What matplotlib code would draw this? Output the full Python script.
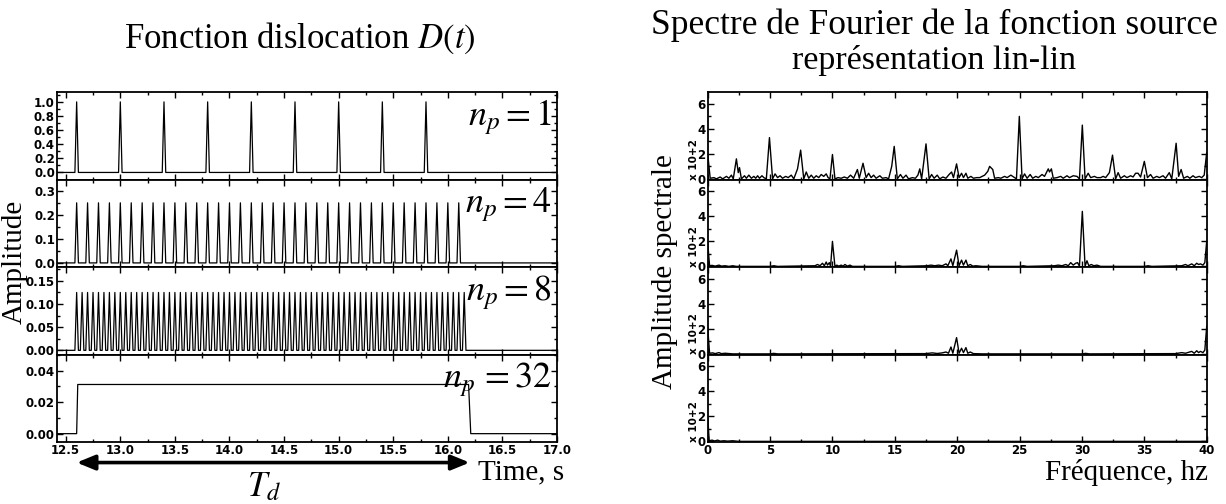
import numpy as np
import matplotlib
matplotlib.use('Agg')
import matplotlib.pyplot as plt
from matplotlib.ticker import MultipleLocator, FormatStrFormatter

plt.rcParams['font.family'] = ['Liberation Sans Narrow', 'DejaVu Sans']
plt.rcParams['mathtext.fontset'] = 'stix'

SERIF = 'Liberation Serif'

# ---- left: dislocation function D(t) ----
np_labels = [r'$n_p=1$', r'$n_p=4$', r'$n_p=8$', r'$n_p\,{=}32$']

spikes_np1 = [12.6, 13.0, 13.4, 13.8, 14.2, 14.6, 15.0, 15.4, 15.8]
spikes_np4 = [12.6, 12.7, 12.8, 12.9, 13.0, 13.1, 13.2, 13.3, 13.4, 13.5, 13.6, 13.7,
              13.8, 13.9, 14.0, 14.1, 14.2, 14.3, 14.4, 14.5, 14.6, 14.7, 14.8, 14.9,
              15.0, 15.1, 15.2, 15.3, 15.4, 15.5, 15.6, 15.7, 15.8, 15.9, 16.0, 16.1]
spikes_np8 = [12.60, 12.65, 12.70, 12.75, 12.80, 12.85, 12.90, 12.95, 13.00, 13.05,
              13.10, 13.15, 13.20, 13.25, 13.30, 13.35, 13.40, 13.45, 13.50, 13.55,
              13.60, 13.65, 13.70, 13.75, 13.80, 13.85, 13.90, 13.95, 14.00, 14.05,
              14.10, 14.15, 14.20, 14.25, 14.30, 14.35, 14.40, 14.45, 14.50, 14.55,
              14.60, 14.65, 14.70, 14.75, 14.80, 14.85, 14.90, 14.95, 15.00, 15.05,
              15.10, 15.15, 15.20, 15.25, 15.30, 15.35, 15.40, 15.45, 15.50, 15.55,
              15.60, 15.65, 15.70, 15.75, 15.80, 15.85, 15.90, 15.95, 16.00, 16.05,
              16.10, 16.15]
spike_amps = [1.0, 0.25, 0.125]

box_t = [12.42, 12.6, 12.61, 16.19, 16.21, 17.0]
box_a = [0.0, 0.0, 0.03125, 0.03125, 0.0, 0.0]

Td_start, Td_end = 12.6, 16.2

left_ylims = [(-0.1, 1.14), (-0.017, 0.347), (-0.009, 0.18), (-0.0053, 0.0503)]
left_ymajor = [0.2, 0.1, 0.05, 0.02]
left_yminor = [0.1, 0.05, 0.025, 0.01]
left_yfmt = ['%.1f', '%.1f', '%.2f', '%.2f']

# ---- right: Fourier spectra (x 10+2) ----
f1 = [0.0, 0.2, 0.5, 0.7, 1.0, 1.2, 1.5, 1.7, 1.9, 2.05, 2.3, 2.45, 2.55, 2.7, 2.95, 3.1,
      3.3, 3.5, 3.7, 3.85, 4.0, 4.15, 4.35, 4.5, 4.7, 4.95, 5.2, 5.4, 5.6, 5.8, 6.0, 6.25,
      6.45, 6.7, 6.9, 7.2, 7.45, 7.7, 7.9, 8.1, 8.3, 8.5, 8.7, 8.9, 9.1, 9.3, 9.5, 9.65,
      9.8, 10.0, 10.2, 10.45, 10.7, 10.95, 11.2, 11.45, 11.7, 12.0, 12.15, 12.45, 12.7,
      12.9, 13.1, 13.3, 13.5, 13.8, 14.0, 14.3, 14.5, 14.75, 14.95, 15.2, 15.45, 15.65,
      15.9, 16.1, 16.4, 16.65, 16.85, 17.0, 17.15, 17.5, 17.75, 17.95, 18.15, 18.4, 18.6,
      18.85, 19.1, 19.35, 19.55, 19.7, 19.95, 20.15, 20.35, 20.5, 20.7, 20.85, 21.1, 21.3,
      21.55, 21.8, 22.0, 22.2, 22.45, 22.6, 22.85, 23.0, 23.3, 23.5, 23.8, 24.0, 24.3,
      24.6, 24.75, 24.98, 25.2, 25.4, 25.6, 25.85, 26.05, 26.3, 26.5, 26.8, 27.0, 27.3,
      27.4, 27.55, 27.7, 28.0, 28.3, 28.5, 28.8, 29.0, 29.3, 29.6, 29.8, 30.03, 30.25,
      30.5, 30.7, 31.0, 31.2, 31.5, 31.7, 31.9, 32.2, 32.45, 32.7, 32.9, 33.1, 33.4, 33.6,
      33.9, 34.1, 34.3, 34.5, 34.7, 35.0, 35.25, 35.5, 35.7, 36.0, 36.2, 36.5, 36.7, 37.0,
      37.2, 37.55, 37.75, 37.95, 38.15, 38.45, 38.65, 38.9, 39.1, 39.4, 39.6, 39.8, 40.0]
a1 = [2.0, 0.05, 0.1, 0.0, 0.15, 0.0, 0.2, 0.05, 0.3, 0.0, 1.6, 0.5, 0.9, 0.0, 0.25, 0.05,
      0.3, 0.05, 0.2, 0.05, 0.25, 0.05, 0.25, 0.1, 0.0, 3.3, 0.0, 0.4, 0.1, 0.25, 0.05, 0.2,
      0.1, 0.3, 0.0, 0.8, 2.3, 0.0, 0.55, 0.05, 0.3, 0.05, 0.25, 0.1, 0.35, 0.2, 0.4, 0.1,
      0.0, 1.95, 0.0, 0.1, 0.05, 0.15, 0.05, 0.3, 0.05, 0.75, 0.05, 1.25, 0.1,
      0.45, 0.1, 0.3, 0.05, 0.25, 0.05, 0.1, 0.0, 1.0, 2.6, 0.0, 0.35, 0.05,
      0.3, 0.0, 0.1, 0.05, 0.3, 0.8, 0.0, 2.8, 0.0, 0.35, 0.05, 0.3, 0.0,
      0.15, 0.05, 0.35, 0.55, 0.1, 1.2, 0.1, 0.45, 0.1, 0.45, 0.05, 0.2, 0.05,
      0.1, 0.1, 0.2, 0.3, 0.6, 1.0, 0.75, 0.05, 0.1, 0.05, 0.2, 0.1, 0.3,
      0.1, 0.0, 5.0, 0.0, 0.4, 0.05, 0.35, 0.05, 0.2, 0.1, 0.35, 0.2, 0.8,
      0.55, 0.8, 0.05, 0.1, 0.2, 0.05, 0.25, 0.1, 0.25, 0.2, 0.0, 4.3, 0.0,
      0.45, 0.1, 0.2, 0.1, 0.1, 0.2, 0.1, 0.5, 1.9, 0.0, 0.5, 0.05, 0.25, 0.1,
      0.25, 0.15, 0.45, 0.45, 0.15, 1.4, 0.1, 0.35, 0.05, 0.2, 0.1, 0.25, 0.05, 0.5,
      0.0, 2.85, 0.2, 0.75, 0.05, 0.2, 0.05, 0.25, 0.1, 0.2, 0.1, 0.3, 2.1]

f2 = [0.0, 0.15, 0.35, 0.6, 0.9, 1.1, 1.4, 1.7, 2.0, 2.3, 5.0, 5.3, 5.6, 8.6, 8.8, 9.0,
      9.2, 9.35, 9.5, 9.6, 9.75, 9.85, 10.0, 10.2, 10.35, 10.5, 10.7, 10.85, 11.0, 11.2,
      11.4, 11.6, 15.0, 15.3, 15.6, 17.6, 17.9, 18.2, 18.5, 18.8, 19.1, 19.25, 19.5,
      19.65, 19.95, 20.15, 20.35, 20.5, 20.7, 20.85, 21.05, 21.25, 21.5, 22.0, 25.0, 25.3,
      25.6, 27.8, 28.1, 28.4, 28.7, 28.9, 29.1, 29.3, 29.5, 29.65, 29.8, 30.03, 30.25,
      30.4, 30.55, 30.75, 30.95, 31.2, 31.5, 35.0, 35.3, 35.6, 38.0, 38.3, 38.5, 38.8,
      39.0, 39.2, 39.35, 39.5, 39.7, 39.85, 40.0]
a2 = [1.9, 0.05, 0.08, 0.02, 0.1, 0.02, 0.05, 0.0, 0.05, 0.0, 0.0, 0.05, 0.0, 0.05, 0.15, 0.05,
      0.25, 0.05, 0.35, 0.1, 0.3, 0.0, 2.0, 0.0, 0.1, 0.02, 0.1, 0.02, 0.15, 0.02,
      0.1, 0.0, 0.0, 0.05, 0.0, 0.05, 0.1, 0.05, 0.1, 0.05, 0.2, 0.05, 0.6,
      0.05, 1.3, 0.05, 0.5, 0.1, 0.5, 0.05, 0.15, 0.02, 0.05, 0.0, 0.0, 0.05,
      0.0, 0.05, 0.1, 0.05, 0.15, 0.05, 0.3, 0.1, 0.25, 0.3, 0.0, 4.4, 0.0,
      0.45, 0.05, 0.15, 0.05, 0.1, 0.0, 0.0, 0.05, 0.0, 0.05, 0.15, 0.05, 0.2,
      0.05, 0.25, 0.15, 0.2, 0.1, 0.3, 2.0]

f3 = [0.0, 0.15, 0.4, 0.6, 0.9, 1.1, 1.4, 2.0, 5.0, 5.3, 5.6, 17.5, 18.0, 18.4, 18.8, 19.1,
      19.3, 19.5, 19.65, 19.95, 20.15, 20.35, 20.5, 20.7, 20.85, 21.05, 21.3, 22.0, 30.0,
      30.3, 30.6, 37.5, 38.0, 38.3, 38.8, 39.0, 39.2, 39.35, 39.5, 39.7, 39.85, 40.0]
a3 = [2.1, 0.05, 0.08, 0.02, 0.1, 0.02, 0.05, 0.0, 0.0, 0.04, 0.0, 0.02, 0.08, 0.03, 0.08, 0.15,
      0.05, 0.55, 0.05, 1.3, 0.05, 0.45, 0.1, 0.5, 0.05, 0.15, 0.02, 0.0, 0.0,
      0.04, 0.0, 0.02, 0.1, 0.05, 0.2, 0.05, 0.25, 0.1, 0.2, 0.1, 0.3, 2.2]

f4 = [0.0, 0.12, 0.35, 0.55, 0.8, 1.0, 1.3, 1.6, 2.0, 2.5, 40.0]
a4 = [2.0, 0.05, 0.1, 0.03, 0.1, 0.02, 0.05, 0.02, 0.05, 0.0, 0.0]

spectra = [(f1, a1), (f2, a2), (f3, a3), (f4, a4)]


def pulse_train(times, amp, half=0.016, t0=12.42, t1=17.0):
    # narrow triangles on a zero baseline
    xs, ys = [t0], [0.0]
    for t in times:
        xs += [t - half, t, t + half]
        ys += [0.0, amp, 0.0]
    xs.append(t1)
    ys.append(0.0)
    return xs, ys


def style_axis(ax):
    for s in ax.spines.values():
        s.set_linewidth(1.3)
    ax.tick_params(which='both', direction='in', top=True, right=True,
                   labelsize=8.5, pad=1.5, width=1.0)
    ax.tick_params(which='major', length=4.5)
    ax.tick_params(which='minor', length=2.5)


fig = plt.figure(figsize=(12.26, 5.04), dpi=100)
W, H = 1226.0, 504.0
panel_h = 87.5
bottom_px = 442.0

left_axes = []
for i in range(4):
    top = bottom_px - (4 - i) * panel_h
    ax = fig.add_axes([57 / W, (H - top - panel_h) / H, 500 / W, panel_h / H])
    left_axes.append(ax)

right_axes = []
for i in range(4):
    top = bottom_px - (4 - i) * panel_h
    ax = fig.add_axes([707.7 / W, (H - top - panel_h) / H, 499 / W, panel_h / H])
    right_axes.append(ax)

# left panels
series_left = [pulse_train(spikes_np1, spike_amps[0]),
               pulse_train(spikes_np4, spike_amps[1]),
               pulse_train(spikes_np8, spike_amps[2]),
               (box_t, box_a)]
for i, ax in enumerate(left_axes):
    x, y = series_left[i]
    ax.plot(x, y, color='black', lw=0.9)
    ax.set_xlim(12.42, 17.0)
    ax.set_ylim(*left_ylims[i])
    ax.xaxis.set_major_locator(MultipleLocator(0.5))
    ax.xaxis.set_minor_locator(MultipleLocator(0.25))
    ax.yaxis.set_major_locator(MultipleLocator(left_ymajor[i]))
    ax.yaxis.set_minor_locator(MultipleLocator(left_yminor[i]))
    ax.yaxis.set_major_formatter(FormatStrFormatter(left_yfmt[i]))
    style_axis(ax)
    if i < 3:
        ax.tick_params(labelbottom=False)
    else:
        ax.xaxis.set_major_formatter(FormatStrFormatter('%.1f'))
    ax.text(0.99, 0.71, np_labels[i], transform=ax.transAxes, ha='right',
            va='center', fontsize=26)

ax4 = left_axes[3]
ax4.annotate('', xy=(Td_end, -0.235), xytext=(Td_start, -0.235),
             xycoords=('data', 'axes fraction'), textcoords=('data', 'axes fraction'),
             arrowprops=dict(arrowstyle='<|-|>,head_length=1.1,head_width=0.45',
                             lw=2.6, color='black', shrinkA=0, shrinkB=0),
             annotation_clip=False)
ax4.text((Td_start + Td_end) / 2 - 0.08, -0.5, r'$T_d$', transform=ax4.get_xaxis_transform(),
         ha='center', va='center', fontsize=25)

# right panels
for i, ax in enumerate(right_axes):
    f, a = spectra[i]
    ax.plot(f, a, color='black', lw=1.0)
    ax.set_xlim(0, 40)
    ax.set_ylim(-0.05, 6.95)
    ax.xaxis.set_major_locator(MultipleLocator(5))
    ax.xaxis.set_minor_locator(MultipleLocator(2.5))
    ax.yaxis.set_major_locator(MultipleLocator(2))
    ax.yaxis.set_minor_locator(MultipleLocator(1))
    ax.yaxis.set_major_formatter(FormatStrFormatter('%d'))
    style_axis(ax)
    if i < 3:
        ax.tick_params(labelbottom=False)
    else:
        ax.xaxis.set_major_formatter(FormatStrFormatter('%d'))
    ax.text(-0.028, 0.0, 'x 10+2', transform=ax.transAxes, rotation=90,
            ha='center', va='bottom', fontsize=7.5, fontweight='bold')

# titles and axis labels
fig.text(300 / W, 1 - 38 / H, r'Fonction dislocation $D(t)$', family=SERIF,
         fontsize=25, ha='center', va='center')
fig.text(934 / W, 1 - 25 / H, 'Spectre de Fourier de la fonction source', family=SERIF,
         fontsize=25.5, ha='center', va='center')
fig.text(934 / W, 1 - 61 / H, 'représentation lin-lin', family=SERIF,
         fontsize=24.5, ha='center', va='center')
fig.text(15 / W, 1 - 262 / H, 'Amplitude', family=SERIF,
         fontsize=21, rotation=90, ha='center', va='center')
fig.text(665 / W, 1 - 272 / H, 'Amplitude spectrale', family=SERIF,
         fontsize=21, rotation=90, ha='center', va='center')
fig.text(478 / W, 1 - 472 / H, 'Time, s', family=SERIF,
         fontsize=21, ha='left', va='center')
fig.text(1208 / W, 1 - 472 / H, 'Fréquence, hz', family=SERIF,
         fontsize=21, ha='right', va='center')

# bold condensed tick labels
fig.canvas.draw()
for ax in left_axes + right_axes:
    for lab in ax.get_xticklabels() + ax.get_yticklabels():
        lab.set_fontweight('bold')

plt.savefig('out.png', dpi=100)
